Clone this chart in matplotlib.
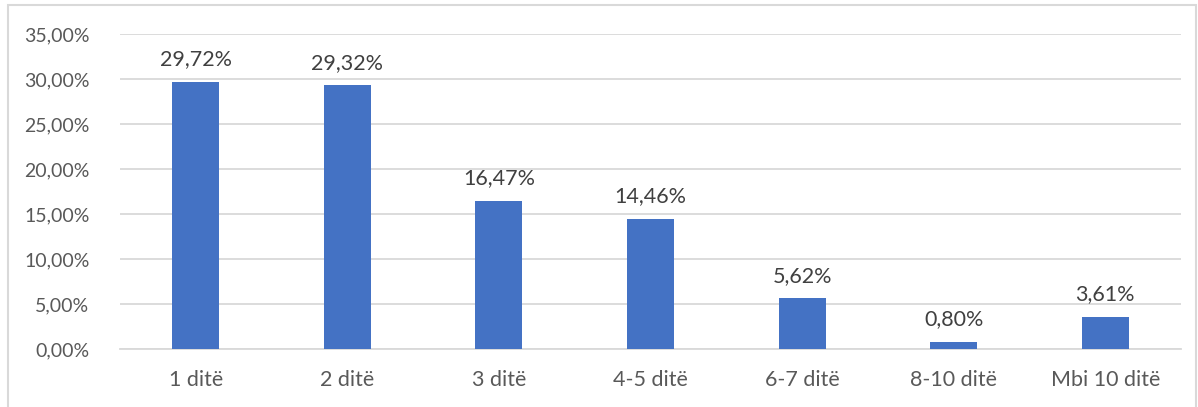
import matplotlib
matplotlib.use("Agg")
import matplotlib.pyplot as plt
from matplotlib.patches import Rectangle

categories = ["1 ditë", "2 ditë", "3 ditë", "4-5 ditë", "6-7 ditë", "8-10 ditë", "Mbi 10 ditë"]
values = [29.72, 29.32, 16.47, 14.46, 5.62, 0.80, 3.61]
yticks = [0, 5, 10, 15, 20, 25, 30, 35]

plt.rcParams['font.family'] = ['Lato', 'DejaVu Sans']
W, H = 1198, 407
fig = plt.figure(figsize=(W / 100, H / 100), dpi=100)
ax = fig.add_axes([120 / W, 1 - 349 / H, (1181 - 120) / W, (349 - 34) / H])

txt = "#595959"
x = range(len(categories))
ax.bar(x, values, width=0.31, color="#4472C4", zorder=3)
for xi, v in zip(x, values):
    ax.annotate(f"{v:.2f}%".replace(".", ","), (xi, v), xytext=(0, 9),
                textcoords="offset points", ha="center", va="bottom",
                fontsize=15.5, color="#404040")

ax.set_xlim(-0.5, len(categories) - 0.5)
ax.set_ylim(0, 35)
ax.set_yticks(yticks)
ax.set_yticklabels([f"{t:.2f}%".replace(".", ",") for t in yticks])
ax.set_xticks(list(x))
ax.set_xticklabels(categories)
ax.tick_params(axis="both", length=0, labelsize=14, labelcolor=txt)
ax.tick_params(axis="x", labelsize=15.5, pad=15)
ax.tick_params(axis="y", pad=22)
ax.grid(axis="y", color="#D9D9D9", linewidth=1.3, zorder=0)
for s in ["top", "right", "left"]:
    ax.spines[s].set_visible(False)
ax.spines["bottom"].set_color("#D9D9D9")
ax.spines["bottom"].set_linewidth(1.3)

fig.patches.append(Rectangle((8 / W, -0.05), (1196 - 8) / W, 1.05 - 5 / H,
                             transform=fig.transFigure, fill=False,
                             edgecolor="#D9D9D9", linewidth=1.5))

fig.savefig("out.png", dpi=100)
